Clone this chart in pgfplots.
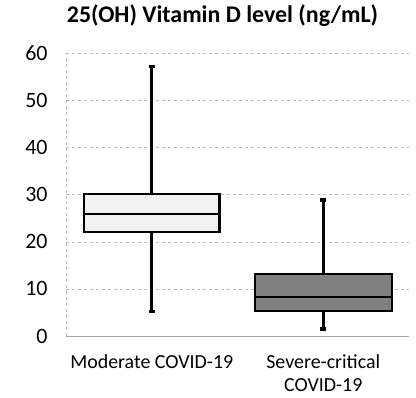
\documentclass[border=0pt]{standalone}
\usepackage{fontspec}
\setmainfont{Carlito}
\usepackage{pgfplots}
\pgfplotsset{compat=1.18}
\usepgfplotslibrary{statistics}
\definecolor{lightbox}{HTML}{F2F2F2}
\definecolor{darkbox}{HTML}{808080}
\definecolor{gridc}{HTML}{BDBDBD}
\begin{document}
\begin{tikzpicture}
\useasboundingbox (-66bp,-62bp) rectangle (350bp,336bp);
\begin{axis}[
  at={(0,0)}, anchor=south west,
  scale only axis,
  width=343bp, height=282.5bp,
  xmin=0.5, xmax=2.5, ymin=0, ymax=60,
  ytick={0,10,20,30,40,50,60},
  xtick={1,2},
  xticklabels={Moderate COVID-19,{Severe-critical\\COVID-19}},
  major tick length=0pt,
  axis x line*=bottom,
  axis y line*=left,
  x axis line style={draw=gray!70, line width=1bp, -},
  y axis line style={draw=gridc, dashed, line width=0.6bp, -},
  ymajorgrids,
  grid style={draw=gridc, dashed, line width=0.6bp},
  /pgf/number format/assume math mode=true,
  yticklabel style={font=\fontsize{22}{26}\selectfont, xshift=-15bp},
  xticklabel style={font=\fontsize{20}{23}\selectfont, align=center, yshift=-15bp},
  boxplot/draw direction=y,
]
\addplot+[boxplot prepared={
  median=25.9, upper quartile=30.1, lower quartile=22.1,
  upper whisker=57.2, lower whisker=5.2,
  draw position=1, box extend=0.79, whisker extend=0.035},
  solid, fill=lightbox, draw=black, line width=2.2bp, mark=none,
  boxplot/every whisker/.style={line width=3.2bp}] coordinates {};
\addplot+[boxplot prepared={
  median=8.35, upper quartile=13.1, lower quartile=5.3,
  upper whisker=28.9, lower whisker=1.5,
  draw position=2, box extend=0.8, whisker extend=0.035},
  solid, fill=darkbox, draw=black, line width=2.2bp, mark=none,
  boxplot/every whisker/.style={line width=3.2bp}] coordinates {};
\end{axis}
\node[font=\fontsize{24}{28}\selectfont\bfseries] at (156.5bp,320bp) {25(OH) Vitamin D level (ng/mL)};
\end{tikzpicture}
\end{document}
